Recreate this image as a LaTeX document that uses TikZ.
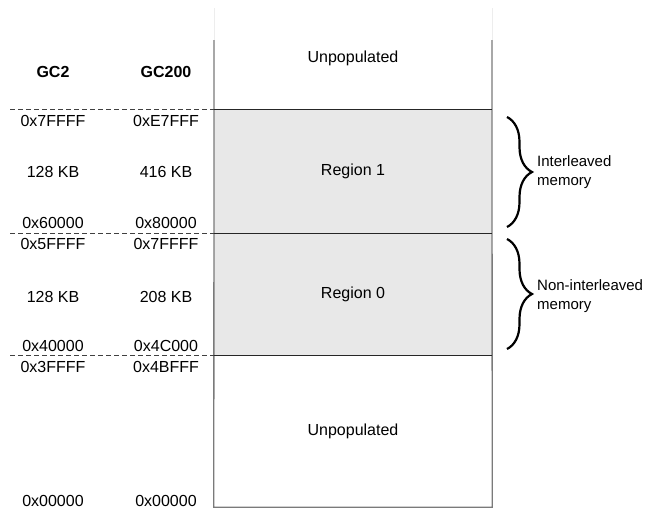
\documentclass[tikz,border=0pt]{standalone}
\usepackage{fontspec}
\setmainfont{Liberation Sans}
\usetikzlibrary{decorations.pathreplacing, positioning}

\definecolor{regfill}{HTML}{E8E8E8}
\definecolor{sidegray}{HTML}{7A7A7A}

\begin{document}
\begin{tikzpicture}[
  x=1pt, y=-1pt,
  font=\fontsize{16}{19}\selectfont,
  region/.style={minimum width=278pt, inner sep=0pt},
  hdr/.style={font=\fontsize{16}{19}\selectfont\bfseries},
  sep/.style={dash pattern=on 5pt off 3pt, draw=black!75, line width=0.8pt},
  bound/.style={draw=black!85, line width=1pt},
  side/.style={draw=sidegray, line width=1.3pt},
  memgroup/.style={decorate, decoration={brace, amplitude=25pt}, line width=2.2pt},
  lbl/.style={anchor=west, align=left, inner sep=0pt, font=\fontsize{15}{19}\selectfont}
]
\useasboundingbox (0,0) rectangle (647,512);

% memory map
\node[region, fill=regfill, minimum height=123pt] (reg1) at (353,171.5) {Region 1};
\node[region, fill=regfill, minimum height=122pt] (reg0) at (353,294) {Region 0};
\node[region, minimum height=152pt] (unpopbot) at (353,431) {Unpopulated};
\node (unpoptop) at (353,58) {Unpopulated};

\coordinate (topl) at (214,40);
\coordinate (topr) at (492,40);
\draw[draw=black!7, line width=1pt] (214,8) -- (topl);
\draw[draw=black!7, line width=1pt] (492,8) -- (topr);
\draw[side] (topl) -- (unpopbot.south west) -- (unpopbot.south east) -- (topr);
\draw[bound] (reg1.north west) -- (reg1.north east);
\draw[bound] (reg1.south west) -- (reg1.south east);
\draw[bound] (reg0.south west) -- (reg0.south east);

% address columns
\node[hdr] (gctwo) at (53,72) {GC2};
\node[hdr] (gcthree) at (166,72) {GC200};
\foreach \y/\a/\b [count=\i] in {121/0x7FFFF/0xE7FFF, 172/128 KB/416 KB,
    223/0x60000/0x80000, 244/0x5FFFF/0x7FFFF, 297/128 KB/208 KB,
    346/0x40000/0x4C000, 367/0x3FFFF/0x4BFFF, 501/0x00000/0x00000}
{
  \node (gctwo\i) at (53,\y) {\a};
  \node (gcthree\i) at (166,\y) {\b};
}
\foreach \n in {reg1.north west, reg1.south west, reg0.south west}
  \draw[sep] (10,0 |- \n) -- (\n);

% braces
\draw[memgroup] (507,117) -- (507,227);
\draw[memgroup] (507,239) -- (507,349);
\node[lbl] (inter) at (537,172) {Interleaved\\memory};
\node[lbl] (noninter) at (537,296) {Non-interleaved\\memory};

\end{tikzpicture}
\end{document}
